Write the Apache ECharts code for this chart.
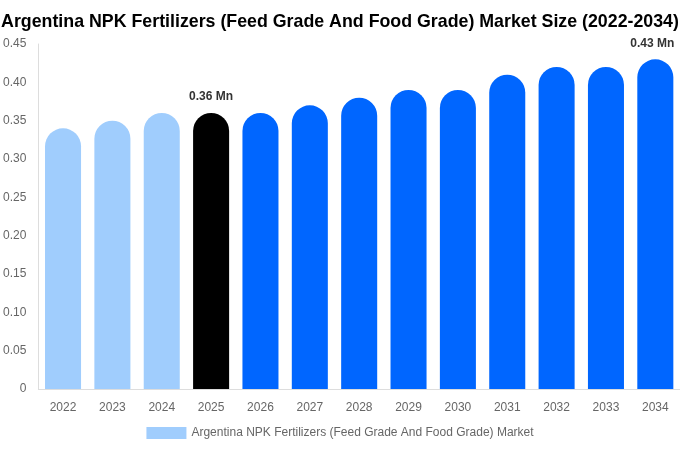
<!DOCTYPE html>
<html><head><meta charset="utf-8">
<script src="https://cdn.jsdelivr.net/npm/echarts@6/dist/echarts.min.js"></script>
<style>html,body{margin:0;padding:0;background:#fff}#c{width:680px;height:450px}</style>
</head><body><div id="c"></div>
<script>
const categories = ['2022','2023','2024','2025','2026','2027','2028','2029','2030','2031','2032','2033','2034'];
const values = [0.34,0.35,0.36,0.36,0.36,0.37,0.38,0.39,0.39,0.41,0.42,0.42,0.43];
const yTicks = [0,0.05,0.10,0.15,0.20,0.25,0.30,0.35,0.40,0.45];
const labeledYears = ['2025','2034'];
const seriesName = 'Argentina NPK Fertilizers (Feed Grade And Food Grade) Market';
const titleText = 'Argentina NPK Fertilizers (Feed Grade And Food Grade) Market Size (2022-2034)';

function colorFor(y){ const n=+y; if(n<2025) return '#a0cdfd'; if(n===2025) return '#000000'; return '#0066ff'; }
const font = '"Liberation Sans",Arial,sans-serif';
const chart = echarts.init(document.getElementById('c'));
chart.setOption({
  animation:false,
  textStyle:{fontFamily:font},
  title:{text:titleText,left:'center',top:8,textStyle:{fontFamily:font,fontSize:17.8,fontWeight:'bold',color:'#000'}},
  legend:{bottom:6,left:'center',itemWidth:40,itemHeight:12,icon:'rect',
    textStyle:{color:'#666',fontSize:12,fontFamily:font},
    data:[{name:seriesName,itemStyle:{color:'#a0cdfd'}}]},
  grid:{left:37,right:0,top:44,bottom:61,containLabel:false},
  xAxis:{type:'category',data:categories,
    axisLine:{lineStyle:{color:'#ddd'}},axisTick:{show:false},
    axisLabel:{color:'#666',fontSize:12,margin:13,fontFamily:font}},
  yAxis:{type:'value',min:0,max:0.45,interval:0.05,
    axisLine:{show:true,lineStyle:{color:'#ddd'}},splitLine:{show:false},
    axisLabel:{color:'#666',fontSize:12,margin:12,fontFamily:font,
      formatter:v=>{ const t=yTicks.find(x=>Math.abs(x-v)<1e-9); return t===0?'0':(t!==undefined?t.toFixed(2):''); }}},
  series:[{name:seriesName,type:'bar',barWidth:'73%',
    data:categories.map((c,i)=>({value:values[i],itemStyle:{color:colorFor(c),borderRadius:[18,18,0,0]},
      label:{show:labeledYears.includes(c),position:'top',distance:10,offset:c==='2034'?[-3,0]:[0,0],formatter:p=>p.value.toFixed(2)+' Mn',
        color:'#333',fontWeight:'bold',fontSize:12,fontFamily:font}}))}]
});
</script></body></html>
